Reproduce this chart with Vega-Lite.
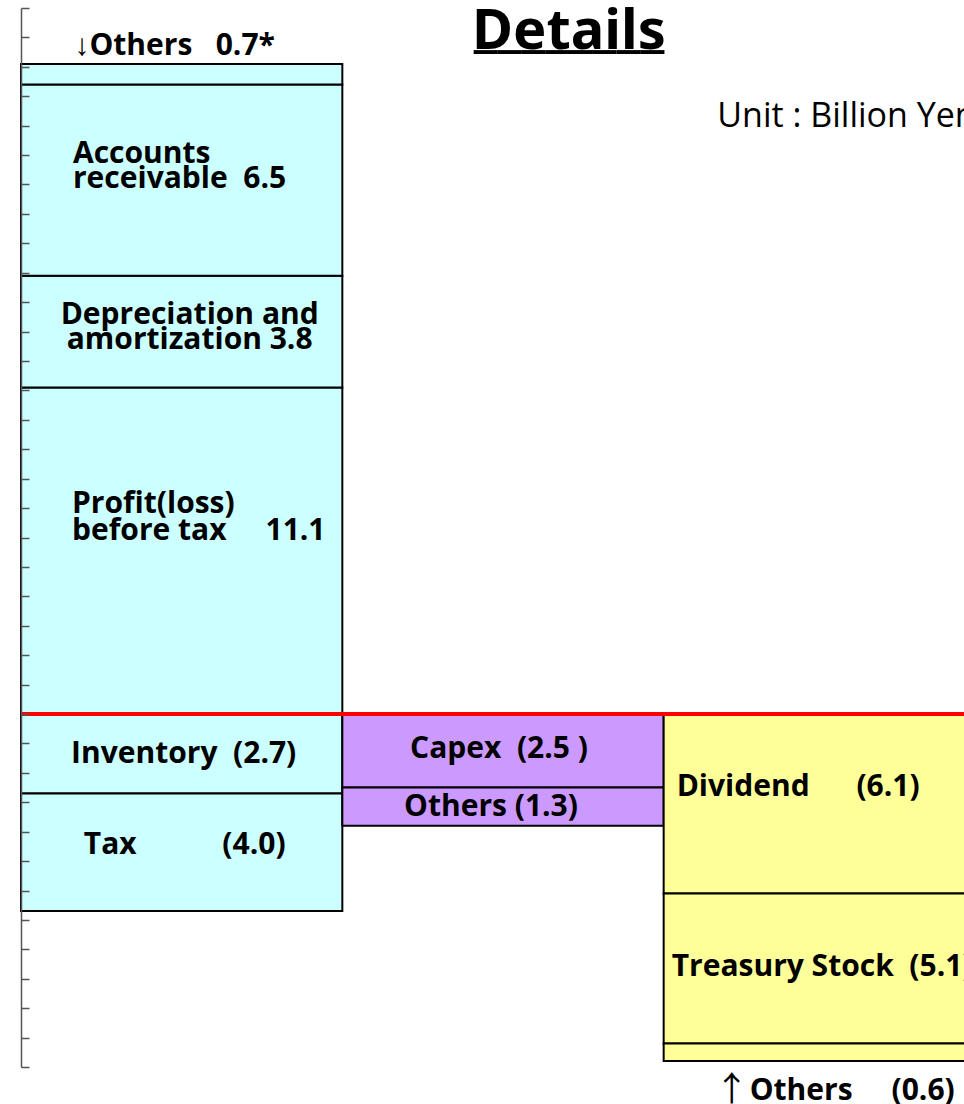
{
  "$schema": "https://vega.github.io/schema/vega-lite/v6.json",
  "autosize": {"type": "none"},
  "padding": {"left": 21, "top": 8, "right": 0, "bottom": 37},
  "width": 943,
  "height": 1059,
  "background": "white",
  "config": {"view": {"stroke": null}, "text": {"font": "Open Sans", "lineBreak": "\n"}},
  "data": {
    "values": [
      {"flow": "Operating", "item": "Profit(loss) before tax", "value": 11.1, "seq": 1, "label": "Profit(loss)\nbefore tax\u00a0\u00a0\u00a0\u00a0\u00a011.1"},
      {"flow": "Operating", "item": "Depreciation and amortization", "value": 3.8, "seq": 2, "label": "Depreciation and\namortization 3.8"},
      {"flow": "Operating", "item": "Accounts receivable", "value": 6.5, "seq": 3, "label": "Accounts\nreceivable\u00a0\u00a06.5"},
      {"flow": "Operating", "item": "Others", "value": 0.7, "seq": 4, "label": "↓Others\u00a0\u00a0\u00a00.7*"},
      {"flow": "Operating", "item": "Inventory", "value": -2.7, "seq": 5, "label": "Inventory\u00a0\u00a0(2.7)"},
      {"flow": "Operating", "item": "Tax", "value": -4.0, "seq": 6, "label": "Tax\u00a0\u00a0\u00a0\u00a0\u00a0\u00a0\u00a0\u00a0\u00a0\u00a0\u00a0(4.0)"},
      {"flow": "Investing", "item": "Capex", "value": -2.5, "seq": 1, "label": "Capex\u00a0\u00a0(2.5\u00a0)"},
      {"flow": "Investing", "item": "Others", "value": -1.3, "seq": 2, "label": "Others (1.3)"},
      {"flow": "Financing", "item": "Dividend", "value": -6.1, "seq": 1, "label": "Dividend\u00a0\u00a0\u00a0\u00a0\u00a0\u00a0(6.1)"},
      {"flow": "Financing", "item": "Treasury Stock", "value": -5.1, "seq": 2, "label": "Treasury Stock\u00a0\u00a0(5.1)"},
      {"flow": "Financing", "item": "Others", "value": -0.6, "seq": 3, "label": "Others\u00a0\u00a0\u00a0\u00a0\u00a0(0.6)"}
    ]
  },
  "transform": [
    {"stack": "value", "groupby": ["flow"], "sort": [{"field": "seq", "order": "ascending"}], "as": ["v0", "v1"], "offset": "zero"},
    {"calculate": "(datum.v0 + datum.v1) / 2", "as": "mid"}
  ],
  "layer": [
    {
      "mark": {"type": "bar", "stroke": "black", "strokeWidth": 2},
      "encoding": {
        "x": {
          "field": "flow", "type": "nominal", "axis": null,
          "scale": {"domain": ["Operating", "Investing", "Financing"], "range": [0, 964], "paddingInner": 0, "paddingOuter": 0}
        },
        "y": {
          "field": "v0", "type": "quantitative",
          "scale": {"domain": [-12, 24], "nice": false, "zero": false},
          "axis": {
            "title": null, "labels": false, "grid": false, "tickSize": -8, "zindex": 1, "tickCount": 60,
            "tickColor": "#555", "domainColor": "#555", "domainWidth": 1.5, "tickWidth": 1.5,
            "values": [-12, -11, -10, -9, -8, -7, -6, -5, -4, -3, -2, -1, 0, 1, 2, 3, 4, 5, 6, 7, 8, 9, 10, 11, 12, 13, 14, 15, 16, 17, 18, 19, 20, 21, 22, 23, 24]
          }
        },
        "y2": {"field": "v1"},
        "fill": {
          "field": "flow", "type": "nominal", "legend": null,
          "scale": {"domain": ["Operating", "Investing", "Financing"], "range": ["#CCFFFF", "#CC99FF", "#FFFF99"]}
        }
      }
    },
    {
      "data": {"values": [{}]},
      "mark": {"type": "rule", "color": "#FF0000", "strokeWidth": 4},
      "encoding": {"y": {"datum": 0}}
    },
    {
      "transform": [{"filter": "datum.flow == 'Operating' && datum.item == 'Accounts receivable'"}],
      "mark": {"type": "text", "fontSize": 30, "fontWeight": "bold", "align": "left", "baseline": "middle", "lineHeight": 25, "dx": 52, "dy": -26},
      "encoding": {"x": {"field": "flow", "type": "nominal", "bandPosition": 0}, "y": {"field": "mid", "type": "quantitative"}, "text": {"field": "label"}}
    },
    {
      "transform": [{"filter": "datum.flow == 'Operating' && datum.item == 'Profit(loss) before tax'"}],
      "mark": {"type": "text", "fontSize": 30, "fontWeight": "bold", "align": "left", "baseline": "middle", "lineHeight": 27, "dx": 51, "dy": -47},
      "encoding": {"x": {"field": "flow", "type": "nominal", "bandPosition": 0}, "y": {"field": "mid", "type": "quantitative"}, "text": {"field": "label"}}
    },
    {
      "transform": [{"filter": "datum.flow == 'Operating' && datum.item == 'Depreciation and amortization'"}],
      "mark": {"type": "text", "fontSize": 30, "fontWeight": "bold", "align": "center", "baseline": "middle", "lineHeight": 25, "dx": 8, "dy": -17},
      "encoding": {"x": {"field": "flow", "type": "nominal"}, "y": {"field": "mid", "type": "quantitative"}, "text": {"field": "label"}}
    },
    {
      "transform": [{"filter": "datum.flow == 'Operating' && datum.item == 'Inventory'"}],
      "mark": {"type": "text", "fontSize": 30, "fontWeight": "bold", "align": "center", "baseline": "middle", "dx": 2, "dy": 0},
      "encoding": {"x": {"field": "flow", "type": "nominal"}, "y": {"field": "mid", "type": "quantitative"}, "text": {"field": "label"}}
    },
    {
      "transform": [{"filter": "datum.flow == 'Operating' && datum.item == 'Tax'"}],
      "mark": {"type": "text", "fontSize": 30, "fontWeight": "bold", "align": "center", "baseline": "middle", "dx": 3, "dy": -7},
      "encoding": {"x": {"field": "flow", "type": "nominal"}, "y": {"field": "mid", "type": "quantitative"}, "text": {"field": "label"}}
    },
    {
      "transform": [{"filter": "datum.flow == 'Investing' && datum.item == 'Capex'"}],
      "mark": {"type": "text", "fontSize": 30, "fontWeight": "bold", "align": "center", "baseline": "middle", "dx": -4, "dy": -2},
      "encoding": {"x": {"field": "flow", "type": "nominal"}, "y": {"field": "mid", "type": "quantitative"}, "text": {"field": "label"}}
    },
    {
      "transform": [{"filter": "datum.flow == 'Investing' && datum.item == 'Others'"}],
      "mark": {"type": "text", "fontSize": 30, "fontWeight": "bold", "align": "center", "baseline": "middle", "dx": -12, "dy": 0},
      "encoding": {"x": {"field": "flow", "type": "nominal"}, "y": {"field": "mid", "type": "quantitative"}, "text": {"field": "label"}}
    },
    {
      "transform": [{"filter": "datum.flow == 'Financing' && datum.item == 'Dividend'"}],
      "mark": {"type": "text", "fontSize": 30, "fontWeight": "bold", "align": "left", "baseline": "middle", "dx": 13, "dy": -17},
      "encoding": {"x": {"field": "flow", "type": "nominal", "bandPosition": 0}, "y": {"field": "mid", "type": "quantitative"}, "text": {"field": "label"}}
    },
    {
      "transform": [{"filter": "datum.flow == 'Financing' && datum.item == 'Treasury Stock'"}],
      "mark": {"type": "text", "fontSize": 30, "fontWeight": "bold", "align": "left", "baseline": "middle", "dx": 8, "dy": -1},
      "encoding": {"x": {"field": "flow", "type": "nominal", "bandPosition": 0}, "y": {"field": "mid", "type": "quantitative"}, "text": {"field": "label"}}
    },
    {
      "transform": [{"filter": "datum.flow == 'Operating' && datum.item == 'Others'"}],
      "mark": {"type": "text", "fontSize": 30, "fontWeight": "bold", "align": "center", "baseline": "middle", "dx": -7, "dy": -18},
      "encoding": {"x": {"field": "flow", "type": "nominal"}, "y": {"field": "v1", "type": "quantitative"}, "text": {"field": "label"}}
    },
    {
      "transform": [{"filter": "datum.flow == 'Financing' && datum.item == 'Others'"}],
      "mark": {"type": "text", "fontSize": 30, "fontWeight": "bold", "align": "left", "baseline": "middle", "dx": 86, "dy": 30},
      "encoding": {"x": {"field": "flow", "type": "nominal", "bandPosition": 0}, "y": {"field": "v1", "type": "quantitative"}, "text": {"field": "label"}}
    },
    {
      "transform": [{"filter": "datum.flow == 'Financing' && datum.item == 'Others'"}],
      "mark": {"type": "text", "font": "Noto Sans CJK JP", "fontSize": 34, "fontWeight": "normal", "align": "center", "baseline": "middle", "dx": 68, "dy": 30},
      "encoding": {"x": {"field": "flow", "type": "nominal", "bandPosition": 0}, "y": {"field": "v1", "type": "quantitative"}, "text": {"value": "↑"}}
    },
    {
      "data": {"values": [{}]},
      "mark": {"type": "text", "font": "Noto Sans", "fontSize": 56, "fontWeight": "bold", "align": "center", "baseline": "alphabetic", "dx": 66},
      "encoding": {"x": {"datum": "Investing"}, "y": {"datum": 22.6}, "text": {"value": "Details"}}
    },
    {
      "data": {"values": [{}]},
      "mark": {"type": "text", "font": "Noto Sans", "fontSize": 58, "fontWeight": "bold", "align": "center", "baseline": "alphabetic", "dx": 66, "dy": -4},
      "encoding": {"x": {"datum": "Investing"}, "y": {"datum": 22.6}, "text": {"value": "________"}}
    },
    {
      "data": {"values": [{}]},
      "mark": {"type": "text", "fontSize": 34, "fontWeight": "normal", "align": "left", "baseline": "alphabetic", "dx": -107},
      "encoding": {"x": {"datum": "Financing"}, "y": {"datum": 19.95}, "text": {"value": "Unit : Billion Yen"}}
    }
  ]
}
